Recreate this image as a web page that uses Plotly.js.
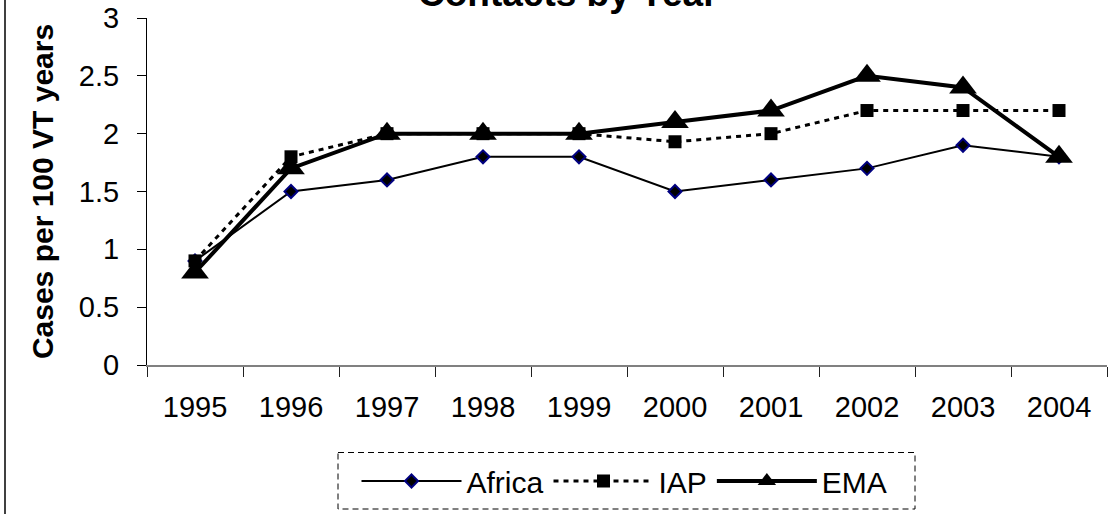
<!DOCTYPE html>
<html>
<head>
<meta charset="utf-8">
<script src="https://cdn.plot.ly/plotly-3.0.1.min.js"></script>
<style>html,body{margin:0;padding:0;background:#fff;}#chart{width:1112px;height:514px;}</style>
</head>
<body>
<div id="chart"></div>
<script>
const years = ["1995","1996","1997","1998","1999","2000","2001","2002","2003","2004"];
const africa = [0.9, 1.5, 1.6, 1.8, 1.8, 1.5, 1.6, 1.7, 1.9, 1.8];
const iap    = [0.9, 1.8, 2.0, 2.0, 2.0, 1.93, 2.0, 2.2, 2.2, 2.2];
const ema    = [0.8, 1.7, 2.0, 2.0, 2.0, 2.1, 2.2, 2.5, 2.4, 1.8];
const yTicks = [0, 0.5, 1, 1.5, 2, 2.5, 3];
const chartTitle = "Contacts by Year";

const W = 1112, H = 514, L = 147, R = 5, T = 18, B = 149;
const pw = W - L - R, ph = H - T - B;
const px = v => (v - L) / pw;
const py = v => (H - B - v) / ph;

const font = "Liberation Sans, Arial, sans-serif";

const traces = [
  {x: years, y: africa, name: "Africa", type: "scatter", mode: "lines+markers",
   line: {color: "#000", width: 2},
   marker: {symbol: "diamond", size: 10, color: "#000", line: {color: "#000080", width: 2}}},
  {x: years, y: iap, name: "IAP", type: "scatter", mode: "lines+markers",
   line: {color: "#000", width: 3, dash: "5px,5px"},
   marker: {symbol: "square", size: 13, color: "#000"}},
  {x: years, y: ema, name: "EMA", type: "scatter", mode: "lines+markers",
   line: {color: "#000", width: 4},
   marker: {symbol: "triangle-up", size: 24, color: "#000"}}
];

const layout = {
  width: W, height: H,
  margin: {l: L, r: R, t: T, b: B},
  paper_bgcolor: "#fff", plot_bgcolor: "#fff",
  showlegend: true,
  annotations: [
    {text: "<b>" + chartTitle + "</b>", xref: "paper", yref: "paper", x: px(568), y: py(-6),
     xanchor: "center", yanchor: "middle", showarrow: false,
     font: {family: font, size: 37, color: "#000"}}
  ],
  xaxis: {type: "category", categoryorder: "array", categoryarray: years,
          range: [-0.5, years.length - 0.5],
          showline: true, linecolor: "#808080", linewidth: 1.5, showgrid: false, zeroline: false,
          ticks: "outside", tickson: "boundaries", ticklen: 10, tickcolor: "#202020", tickwidth: 1,
          tickfont: {family: font, size: 29, color: "#000"}, ticklabelstandoff: 16},
  yaxis: {range: [0, 3], tickvals: yTicks, ticktext: yTicks.map(String),
          showline: true, linecolor: "#000", linewidth: 1, showgrid: false, zeroline: false,
          ticks: "outside", ticklen: 9, tickcolor: "#000", tickwidth: 1,
          tickfont: {family: font, size: 29, color: "#000"}, ticklabelstandoff: 12,
          title: {text: "<b>Cases per 100 VT years</b>", font: {family: font, size: 30, color: "#000"}, standoff: 16}},
  legend: {orientation: "h", x: px(624.5), xanchor: "center", y: py(481), yanchor: "middle",
           font: {family: font, size: 30, color: "#000"}, bgcolor: "rgba(0,0,0,0)", borderwidth: 0,
           itemwidth: 100, traceorder: "normal"},
  shapes: [
    {type: "rect", xref: "paper", yref: "paper", x0: px(338), x1: px(915), y0: py(452.5), y1: py(509),
     line: {color: "#000", width: 1, dash: "6px,4px"}, fillcolor: "rgba(0,0,0,0)"},
    {type: "line", xref: "paper", yref: "paper", x0: px(5), x1: px(5), y0: py(0), y1: py(514),
     line: {color: "#000", width: 1.5}}
  ]
};

Plotly.newPlot("chart", traces, layout, {staticPlot: true, displayModeBar: false});
</script>
</body>
</html>
